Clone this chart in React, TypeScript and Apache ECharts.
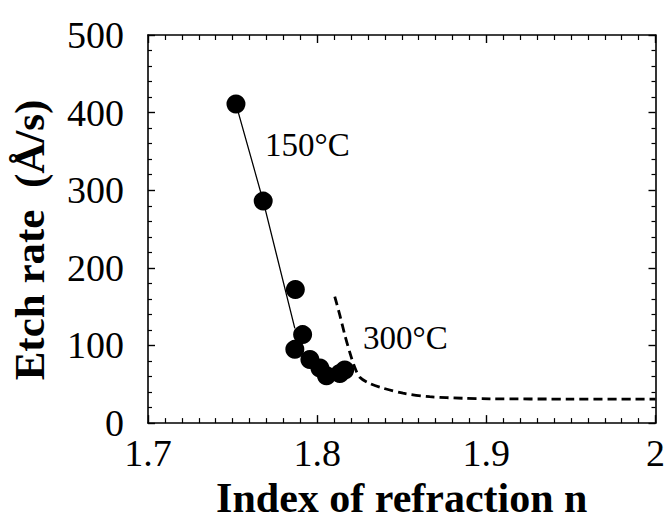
import React, { useEffect, useRef } from "react";
import * as echarts from "echarts";

// Measured data points at 150°C (index of refraction n, etch rate Å/s)
const pointsN = [1.752, 1.7681, 1.7871, 1.7914, 1.7868, 1.7957, 1.8016, 1.8055, 1.8134, 1.8163];
const pointsRate = [411, 286, 172, 114, 95, 82, 71, 61, 64, 68.5];

// Solid guide line for 150°C
const line150N = [1.752, 1.7681, 1.7868];
const line150Rate = [411, 286, 122];

// Dashed guide curve for 300°C
const line300N = [1.8104, 1.8134, 1.8163, 1.8193, 1.8222, 1.8252, 1.8311, 1.839, 1.8508, 1.8665, 1.8862, 1.902, 1.95, 2.0];
const line300Rate = [163, 139, 114, 91, 72, 59, 51, 45, 38.5, 34, 32, 31.3, 31, 31];

const xTicks = [1.7, 1.8, 1.9, 2.0];
const yTicks = [0, 100, 200, 300, 400, 500];

const FONT = "'Liberation Serif', 'Times New Roman', serif";
const zip = (a: number[], b: number[]) => a.map((v, i) => [v, b[i]]);

function xAxisOpt(pos: "top" | "bottom") {
  return {
    type: "value",
    position: pos,
    min: xTicks[0],
    max: xTicks[xTicks.length - 1],
    interval: 0.1,
    axisLine: { show: true, onZero: false, lineStyle: { color: "#000", width: 1.6 } },
    splitLine: { show: false },
    axisTick: { show: true, inside: true, length: 8, lineStyle: { color: "#000", width: 1.4 } },
    minorTick: { show: true, splitNumber: 10, length: 5, lineStyle: { color: "#000", width: 1.2 } },
  };
}
function yAxisOpt(pos: "left" | "right") {
  return {
    type: "value",
    position: pos,
    min: yTicks[0],
    max: yTicks[yTicks.length - 1],
    interval: 100,
    axisLine: { show: true, onZero: false, lineStyle: { color: "#000", width: 1.6 } },
    splitLine: { show: false },
    axisTick: { show: true, inside: true, length: 7, lineStyle: { color: "#000", width: 1.4 } },
    minorTick: { show: true, splitNumber: 5, length: 4, lineStyle: { color: "#000", width: 1.2 } },
  };
}

export default function App() {
  const ref = useRef<HTMLDivElement>(null);
  useEffect(() => {
    if (!ref.current) return;
    const chart = echarts.init(ref.current, undefined, { renderer: "svg" });
    chart.setOption({
      animation: false,
      backgroundColor: "#fff",
      grid: { left: 148, right: 12, top: 35, bottom: 90, containLabel: false, show: false },
      xAxis: [
        {
          ...xAxisOpt("bottom"),
          name: "Index of refraction n",
          nameLocation: "middle",
          nameGap: 48,
          nameTextStyle: { fontFamily: FONT, fontWeight: "bold", fontSize: 42, color: "#000" },
          axisLabel: {
            show: true,
            margin: 15,
            fontFamily: FONT,
            fontSize: 38,
            lineHeight: 30,
            color: "#000",
            formatter: (v: number) => (Math.abs(v - 2) < 1e-9 ? "2" : v.toFixed(1)),
          },
        },
        { ...xAxisOpt("top"), axisLabel: { show: false } },
      ],
      yAxis: [
        {
          ...yAxisOpt("left"),
          axisLabel: {
            show: true,
            margin: 24,
            fontFamily: FONT,
            fontSize: 38,
            lineHeight: 24,
            padding: [0, 0, 6, 0],
            color: "#000",
          },
        },
        { ...yAxisOpt("right"), axisLabel: { show: false } },
      ],
      series: [
        {
          type: "line",
          data: zip(line150N, line150Rate),
          showSymbol: false,
          symbol: "none",
          lineStyle: { color: "#000", width: 1.3 },
          z: 2,
        },
        {
          type: "line",
          data: zip(line300N, line300Rate),
          showSymbol: false,
          symbol: "none",
          smooth: 0.3,
          lineStyle: { color: "#000", width: 2.8, type: [9, 5] },
          z: 2,
        },
        {
          type: "scatter",
          data: zip(pointsN, pointsRate),
          symbol: "circle",
          symbolSize: 19,
          itemStyle: { color: "#000", opacity: 1 },
          z: 3,
        },
        {
          // invisible helper so the top/right frame axes get drawn
          type: "line",
          xAxisIndex: 1,
          yAxisIndex: 1,
          data: [[xTicks[0], yTicks[0]], [xTicks[xTicks.length - 1], yTicks[yTicks.length - 1]]],
          symbol: "none",
          lineStyle: { opacity: 0, width: 0 },
          silent: true,
        },
      ],
      graphic: [
        {
          type: "text",
          x: 29,
          y: 240,
          rotation: Math.PI / 2,
          style: {
            text: "Etch rate  (Å/s)",
            fontFamily: FONT,
            fontWeight: "bold",
            fontSize: 43,
            fill: "#000",
            align: "center",
            verticalAlign: "middle",
          },
        },
        {
          type: "text",
          left: 265,
          top: 128,
          style: { text: "150°C", fontFamily: FONT, fontSize: 33, fill: "#000" },
        },
        {
          type: "text",
          left: 363,
          top: 321,
          style: { text: "300°C", fontFamily: FONT, fontSize: 33, fill: "#000" },
        },
      ],
    });
    return () => chart.dispose();
  }, []);
  return (
    <div
      ref={ref}
      style={{ position: "fixed", left: 0, top: 0, width: 668, height: 524, background: "#fff" }}
    />
  );
}
